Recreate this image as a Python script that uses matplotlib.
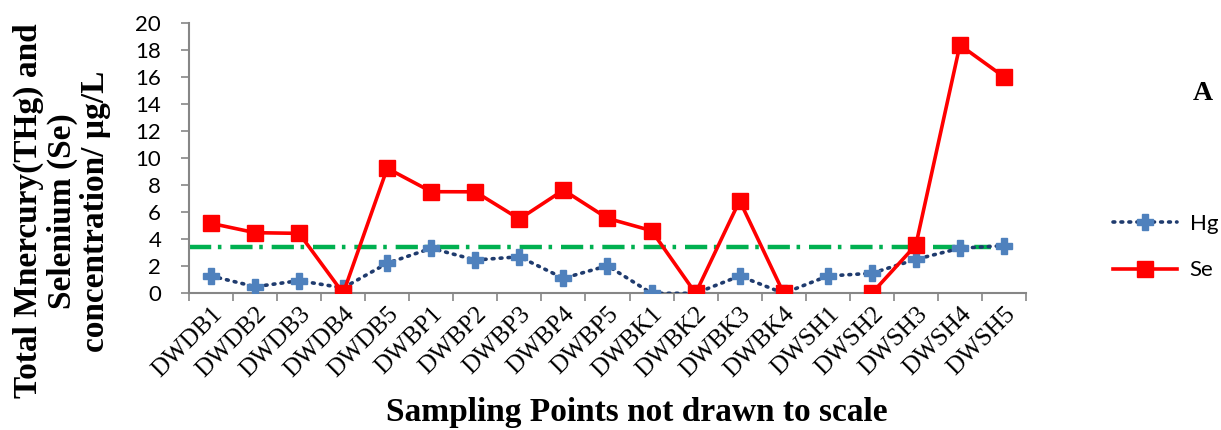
import numpy as np
import matplotlib
matplotlib.use("Agg")
import matplotlib.pyplot as plt
import matplotlib.transforms as mtransforms
from matplotlib.lines import Line2D

sites = ["DWDB1", "DWDB2", "DWDB3", "DWDB4", "DWDB5",
         "DWBP1", "DWBP2", "DWBP3", "DWBP4", "DWBP5",
         "DWBK1", "DWBK2", "DWBK3", "DWBK4",
         "DWSH1", "DWSH2", "DWSH3", "DWSH4", "DWSH5"]
hg = [1.28, 0.49, 0.93, 0.40, 2.22,
      3.33, 2.46, 2.70, 1.11, 2.04,
      0.00, 0.00, 1.28, 0.00,
      1.28, 1.48, 2.51, 3.33, 3.52]
se = [5.17, 4.48, 4.43, 0.00, 9.24,
      7.51, 7.50, 5.49, 7.63, 5.54,
      4.63, 0.00, 6.85, 0.00,
      np.nan, 0.00, 3.57, 18.35, 16.00]
guideline = 3.45
y_ticks = [0, 2, 4, 6, 8, 10, 12, 14, 16, 18, 20]

W, H = 1221, 430
fig = plt.figure(figsize=(W / 100, H / 100), dpi=100)
ax = fig.add_axes([189 / W, 1 - 293.3 / H, (1026 - 189) / W, (293.3 - 22.7) / H])

x = np.arange(len(sites))
grey = "#868686"
hg_dots = (0, (0.5, 1.7))

ax.hlines(guideline, -0.5, len(sites) - 1.3, colors="#00B050", linewidth=3.2,
          linestyles=(0, (5, 1.5, 0.8, 2.0)), zorder=2)
ax.plot(x, hg, linestyle=hg_dots, dash_capstyle="round", color="#1F3B6E",
        linewidth=2.6, marker="P", markersize=11, markerfacecolor="#4F81BD",
        markeredgecolor="#4F81BD", zorder=3)
ax.plot(x, se, color="#FF0000", linewidth=2.6, marker="s", markersize=11,
        markerfacecolor="#FF0000", markeredgecolor="#FF0000", zorder=4)

ax.set_xlim(-0.5, len(sites) - 0.5)
ax.set_ylim(0, 20)
ax.set_yticks(y_ticks)
ax.set_yticklabels([str(v) for v in y_ticks], fontfamily="Lato", fontsize=16)

ax.set_xticks(x)
ax.set_xticklabels(sites, rotation=45, ha="right", va="top",
                   rotation_mode="anchor", fontfamily="Liberation Serif", fontsize=18)
shift = mtransforms.ScaledTranslation(5 / 100, 0, fig.dpi_scale_trans)
for lbl in ax.get_xticklabels():
    lbl.set_transform(lbl.get_transform() + shift)
ax.set_xticks(np.arange(-0.5, len(sites), 1.0), minor=True)
ax.tick_params(axis="x", which="major", length=0, pad=7)
ax.tick_params(axis="x", which="minor", length=6, width=1.2, color=grey)
ax.tick_params(axis="y", length=6, width=1.2, color=grey, pad=14)

for side in ("top", "right"):
    ax.spines[side].set_visible(False)
for side in ("left", "bottom"):
    ax.spines[side].set_color(grey)
    ax.spines[side].set_linewidth(1.5)

fig.text(637 / W, 1 - 413 / H, "Sampling Points not drawn to scale",
         ha="center", va="center", fontfamily="Liberation Serif",
         fontweight="bold", fontsize=24)
fig.text(62 / W, 1 - 211 / H, "Total Mnercury(THg) and\nSelenium (Se)\nconcentration/ µg/L",
         ha="center", va="center", rotation=90, multialignment="center",
         fontfamily="Liberation Serif", fontweight="bold", fontsize=24,
         linespacing=1.1)
fig.text(1203 / W, 1 - 94 / H, "A", ha="center", va="center",
         fontfamily="Liberation Serif", fontweight="bold", fontsize=20)

handles = [
    Line2D([], [], linestyle=hg_dots, dash_capstyle="round", color="#1F3B6E",
           linewidth=2.6, marker="P", markersize=11, markerfacecolor="#4F81BD",
           markeredgecolor="#4F81BD"),
    Line2D([], [], color="#FF0000", linewidth=2.6, marker="s", markersize=11,
           markerfacecolor="#FF0000", markeredgecolor="#FF0000"),
]
fig.legend(handles, ["Hg", "Se"], loc="center left",
           bbox_to_anchor=(1104 / W, 1 - 247 / H), frameon=False,
           prop={"family": "Lato", "size": 16}, handlelength=2.9,
           handletextpad=0.55, labelspacing=1.2, borderaxespad=0)

fig.savefig("out.png", dpi=100)
